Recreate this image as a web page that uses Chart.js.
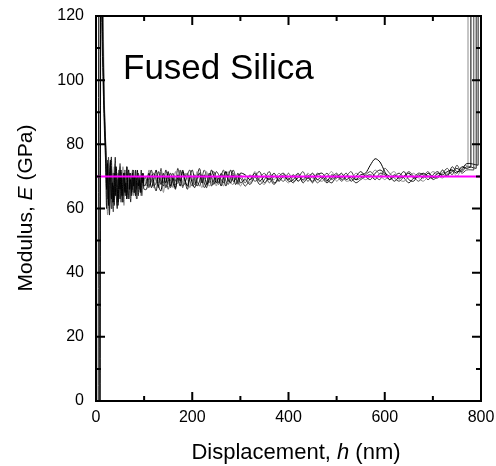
<!DOCTYPE html>
<html>
<head>
<meta charset="utf-8">
<script src="https://cdn.jsdelivr.net/npm/chart.js@4"></script>
<style>
  html, body { margin: 0; padding: 0; background: #fff; }
  #wrap { width: 496px; height: 466px; }
</style>
</head>
<body>
<div id="wrap"><canvas id="modulusChart" width="496" height="466"></canvas></div>
<script>
// depth grids (nm): fine steps near the surface, wider steps deeper in
var depthFine = [4, 6, 8, 10, 12, 14, 16, 18, 20, 22, 24, 26, 28, 30, 32, 34, 36, 38, 40, 42,
    44, 46, 48, 50, 52, 54, 56, 58, 60, 62, 64, 66, 68, 70, 72, 74, 76, 78, 80, 82,
    84, 86, 88, 90, 92, 94, 96, 98, 100];
var depthMid = [105, 110, 115, 120, 125, 130, 135, 140, 145, 150,
    155, 160, 165, 170, 175, 180, 185, 190, 195, 200,
    205, 210, 215, 220, 225, 230, 235, 240, 245, 250,
    255, 260, 265, 270, 275, 280, 285, 290, 295, 300];
var depthCoarse = [310, 320, 330, 340, 350, 360, 370, 380, 390, 400,
    410, 420, 430, 440, 450, 460, 470, 480, 490, 500,
    510, 520, 530, 540, 550, 560, 570, 580, 590, 600,
    610, 620, 630, 640, 650, 660, 670, 680, 690, 700,
    710, 720, 730, 740, 750, 760, 770];

// modulus (GPa) for five indents
var runAFine = [null, null, -60, 170, 140, 112, 96, 86, 79, 66, 74, 61, 70, 75, 63, 68, 62, 71, 64, 73,
    67, 62, 70, 66, 72, 64, 69, 71, 65, 68, 63, 70, 72, 66, 69, 65, 71, 67, 70, 64,
    68, 72, 67, 69, 65, 70, 68, 71, 67];
var runAMid = [68, 71, 66.5, 69, 72, 67, 65.5, 70, 68, 71.5,
    67, 69.5, 66, 70.5, 68.5, 72, 69, 67, 70, 68,
    66.5, 69, 71, 68, 70.5, 67.5, 69, 72, 70, 68,
    69.5, 67, 70, 71.5, 69, 68, 70.5, 67.5, 69, 71];
var runACoarse = [70.5, 69, 71, 68.5, 70, 69, 71, 68.5, 70, 69,
    70.5, 68.5, 70, 69.5, 71, 69, 70, 68.5, 70.5, 69.5,
    71, 69, 70, 69, 70.5, 71, 73.5, 75.5, 74.5, 71.5,
    69, 70.5, 69.5, 70, 71, 69.5, 70, 71, 70, 69.5,
    71, 70.5, 71.5, 72, 71, 73, 72.5];

var runBFine = [-80, 150, 160, 130, 118, 104, 92, 82, 74, 60, 72, 64, 58, 70, 76, 62, 67, 61, 73, 69,
    60, 66, 72, 63, 70, 65, 62, 71, 68, 64, 73, 66, 63, 69, 71, 64, 67, 70, 65, 72,
    66, 68, 64, 70, 67, 65, 71, 68, 66];
var runBMid = [66, 69.5, 72, 68, 65.5, 70, 67.5, 71, 66.5, 69,
    71, 68, 66.5, 69.5, 67, 71.5, 68.5, 66, 70, 72,
    69, 67, 68.5, 70.5, 68, 66.5, 71, 69.5, 67.5, 70,
    68, 71, 69.5, 67, 70, 72, 68.5, 69, 71, 68];
var runBCoarse = [69, 67.5, 70, 71.5, 68, 69.5, 67.5, 70, 71, 68.5,
    69, 71, 68, 69.5, 68.5, 70.5, 71, 69, 68, 70,
    69.5, 71, 68.5, 70, 71.5, 70, 69, 71, 72, 71,
    70, 68.5, 70, 71.5, 69, 68.5, 70.5, 69.5, 71, 70,
    69.5, 72, 70, 73, 71.5, 72, 74];

var runCFine = [null, -40, 60, 190, 150, 120, 100, 88, 80, 72, 63, 76, 60, 67, 73, 65, 59, 70, 74, 64,
    61, 71, 66, 74, 62, 68, 70, 64, 72, 67, 63, 69, 66, 71, 64, 68, 72, 65, 67, 70,
    63, 69, 71, 66, 68, 64, 70, 67, 69];
var runCMid = [70, 67, 68.5, 71, 69, 66.5, 72.5, 68, 70, 66,
    69, 71, 67.5, 68, 72, 66.5, 70, 71, 68.5, 67,
    70.5, 68.5, 67, 69.5, 72, 70, 68, 70.5, 71.5, 69,
    67.5, 70, 72, 68.5, 67.5, 70, 71, 69.5, 68, 70.5];
var runCCoarse = [68, 70.5, 68.5, 69.5, 71, 68, 70, 69.5, 68.5, 71,
    68.5, 69.5, 71.5, 68.5, 70, 68, 69.5, 71, 69, 70.5,
    68.5, 70, 71.5, 69, 69.5, 70.5, 71.5, 70, 69, 72.5,
    71, 69.5, 68.5, 70, 71.5, 70, 68.5, 70, 71.5, 69,
    70, 71, 72.5, 70.5, 73.5, 71, 72];

var runDFine = [null, null, null, 230, 170, 135, 108, 90, 77, 68, 58, 70, 66, 62, 72, 60, 67, 73, 64, 69,
    62, 70, 68, 63, 71, 66, 73, 61, 68, 70, 65, 67, 71, 63, 69, 66, 72, 64, 68, 70,
    66, 63, 71, 68, 66, 70, 64, 69, 70];
var runDMid = [67, 72, 69, 66.5, 70.5, 68, 71, 65, 69.5, 67.5,
    70, 66.5, 71.5, 69, 67, 68.5, 71, 69.5, 66.5, 70,
    68, 71.5, 69, 66.5, 69, 71.5, 67, 68, 70.5, 67,
    70, 68.5, 67, 70.5, 71.5, 68, 67.5, 70, 69.5, 67];
var runDCoarse = [69.5, 68, 71.5, 69, 67.5, 70.5, 69, 71, 69.5, 68,
    70, 70.5, 68.5, 71, 69.5, 69, 68.5, 70, 71.5, 68.5,
    70, 68.5, 69, 71, 70, 69, 70, 72, 70.5, 69,
    70.5, 71.5, 69, 68.5, 70, 71, 69.5, 68.5, 70, 71.5,
    70.5, 69.5, 71, 72, 70, 72.5, 73.5];

var runEFine = [null, null, -30, 130, 180, 125, 102, 89, 81, 70, 75, 62, 68, 74, 60, 67, 71, 63, 76, 64,
    69, 61, 66, 73, 64, 70, 62, 68, 71, 65, 73, 67, 64, 69, 62, 70, 66, 72, 65, 69,
    67, 64, 71, 69, 66, 72, 65, 68, 70];
var runEMid = [69, 66.5, 70.5, 67, 68, 71.5, 68.5, 67, 72, 69,
    66.5, 70, 68.5, 72.5, 69, 67, 68, 70.5, 72, 69,
    67.5, 70, 72.5, 69, 66.5, 68, 70.5, 67, 69, 71.5,
    70.5, 69, 68, 71.5, 68.5, 69.5, 72, 70, 67.5, 69.5];
var runECoarse = [67, 69, 70, 67.5, 69, 71.5, 68, 69, 70.5, 69.5,
    68, 70, 69, 70.5, 68, 71, 69.5, 68, 69.5, 71,
    69, 70, 69.5, 68, 69, 70, 70.5, 69, 71, 70.5,
    69, 70, 71, 69.5, 68, 69.5, 71, 70.5, 69, 70.5,
    71.5, 70, 70.5, 71.5, 72.5, 71.5, 73];

// where each indent ends: the modulus shoots off the top
var tailDepth = [779, 794, 785, 773, 790];
var tailModulus = [73, 73.5, 72, 73, 72.5];
var tailTop = 250;

var runColors = ['#000000', '#1a1a1a', '#444444', '#8c8c8c', '#262626'];

// reference value for fused silica
var referenceDepth = [0, 800];
var referenceModulus = [70, 70];

// axis ticks
var xMajorTicks = [0, 200, 400, 600, 800];
var xMinorTicks = [100, 300, 500, 700];
var yMajorTicks = [0, 20, 40, 60, 80, 100, 120];
var yMinorTicks = [10, 30, 50, 70, 90, 110];

var FONT = 'Arial, "Liberation Sans", sans-serif';

function toPoints(fine, mid, coarse) {
    var pts = [];
    depthFine.forEach(function(d, i) { pts.push({ x: d, y: fine[i] }); });
    depthMid.forEach(function(d, i) { pts.push({ x: d, y: mid[i] }); });
    depthCoarse.forEach(function(d, i) { pts.push({ x: d, y: coarse[i] }); });
    return pts;
}

var runs = [
    [runAFine, runAMid, runACoarse],
    [runBFine, runBMid, runBCoarse],
    [runCFine, runCMid, runCCoarse],
    [runDFine, runDMid, runDCoarse],
    [runEFine, runEMid, runECoarse]
];

var datasets = [{
    data: referenceDepth.map(function(d, i) { return { x: d, y: referenceModulus[i] }; }),
    borderColor: '#ff00ff',
    borderWidth: 2,
    pointRadius: 0,
    tension: 0,
    order: 0,
    clip: 0
}];

runs.forEach(function(r, i) {
    var pts = toPoints(r[0], r[1], r[2]);
    pts.push({ x: tailDepth[i], y: tailModulus[i] });
    datasets.push({
        data: pts,
        borderColor: runColors[i],
        borderWidth: 1,
        pointRadius: 0,
        tension: 0.3,
        order: 1,
        clip: 0
    });
    // vertical run-off at the end of the indent
    datasets.push({
        data: [{ x: tailDepth[i], y: tailModulus[i] }, { x: tailDepth[i], y: tailTop }],
        borderColor: runColors[i],
        borderWidth: 1,
        pointRadius: 0,
        tension: 0,
        order: 1,
        clip: 0
    });
});

function drawRich(ctx, parts, cx, baseline, size) {
    var total = 0;
    parts.forEach(function(p) {
        ctx.font = (p[1] ? 'italic ' : '') + size + 'px ' + FONT;
        total += ctx.measureText(p[0]).width;
    });
    var x = cx - total / 2;
    ctx.textAlign = 'left';
    ctx.textBaseline = 'alphabetic';
    parts.forEach(function(p) {
        ctx.font = (p[1] ? 'italic ' : '') + size + 'px ' + FONT;
        ctx.fillText(p[0], x, baseline);
        x += ctx.measureText(p[0]).width;
    });
}

// box frame with inward ticks, axis titles and the sample label
var framePlugin = {
    id: 'frame',
    afterDraw: function(chart) {
        var ctx = chart.ctx;
        var a = chart.chartArea;
        var xs = chart.scales.x;
        var ys = chart.scales.y;
        ctx.save();
        ctx.strokeStyle = '#000';
        ctx.lineWidth = 2;
        ctx.strokeRect(a.left, a.top, a.right - a.left, a.bottom - a.top);

        ctx.beginPath();
        function xTick(v, len) {
            var px = xs.getPixelForValue(v);
            ctx.moveTo(px, a.bottom); ctx.lineTo(px, a.bottom - len);
            ctx.moveTo(px, a.top); ctx.lineTo(px, a.top + len);
        }
        function yTick(v, len) {
            var py = ys.getPixelForValue(v);
            ctx.moveTo(a.left, py); ctx.lineTo(a.left + len, py);
            ctx.moveTo(a.right, py); ctx.lineTo(a.right - len, py);
        }
        xMajorTicks.forEach(function(v) { xTick(v, 9); });
        xMinorTicks.forEach(function(v) { xTick(v, 5); });
        yMajorTicks.forEach(function(v) { yTick(v, 9); });
        yMinorTicks.forEach(function(v) { yTick(v, 5); });
        ctx.stroke();

        ctx.fillStyle = '#000';
        drawRich(ctx, [['Displacement, ', false], ['h', true], [' (nm)', false]], 296, 459, 22);

        ctx.save();
        ctx.translate(32, 208);
        ctx.rotate(-Math.PI / 2);
        drawRich(ctx, [['Modulus, ', false], ['E', true], [' (GPa)', false]], 0, 0, 21);
        ctx.restore();

        ctx.font = '35px ' + FONT;
        ctx.textAlign = 'left';
        ctx.textBaseline = 'alphabetic';
        ctx.fillText('Fused Silica', 123, 79);
        ctx.restore();
    }
};

new Chart(document.getElementById('modulusChart'), {
    type: 'line',
    data: { datasets: datasets },
    options: {
        responsive: false,
        animation: false,
        devicePixelRatio: 1,
        layout: { padding: { left: 0, right: 15, top: 16, bottom: 0 } },
        plugins: {
            legend: { display: false },
            tooltip: { enabled: false }
        },
        scales: {
            x: {
                type: 'linear',
                min: 0,
                max: 800,
                grid: { display: false, drawTicks: false },
                border: { display: false },
                ticks: {
                    stepSize: 200,
                    maxRotation: 0,
                    padding: 7,
                    color: '#000',
                    font: { family: FONT, size: 16 }
                },
                afterFit: function(s) {
                    s.height = 65;
                    s.paddingLeft = 0;
                    s.paddingRight = 0;
                }
            },
            y: {
                type: 'linear',
                min: 0,
                max: 120,
                grid: { display: false, drawTicks: false },
                border: { display: false },
                ticks: {
                    stepSize: 20,
                    padding: 12,
                    color: '#000',
                    font: { family: FONT, size: 16 }
                },
                afterFit: function(s) {
                    s.width = 96;
                    s.paddingTop = 0;
                    s.paddingBottom = 0;
                }
            }
        }
    },
    plugins: [framePlugin]
});
</script>
</body>
</html>
